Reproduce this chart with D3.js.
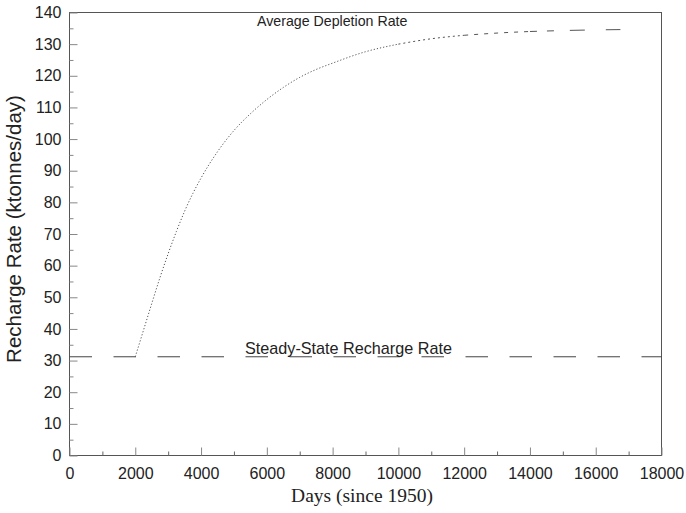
<!DOCTYPE html>
<html>
<head>
<meta charset="utf-8">
<script src="https://cdn.jsdelivr.net/npm/d3@7"></script>
<style>
  html, body { margin: 0; padding: 0; background: #fff; }
  svg { display: block; }
</style>
</head>
<body>
<svg id="chart" width="686" height="513"></svg>
<script>
// ---- data ----
const depletionDays = [2000, 2250, 2500, 2750, 3000, 3250, 3500, 3750, 4000, 4500, 5000, 5500, 6000, 6500, 7000, 7500, 8000, 9000, 10000, 11000, 12000, 13000, 14000, 15000, 16000, 16750];
const depletionRate = [31.2, 39.6, 48, 56.2, 63.8, 70.8, 77.2, 82.8, 87.7, 96, 102.7, 108, 112.5, 116.3, 119.5, 122, 124, 127.6, 130, 131.7, 132.8, 133.5, 134, 134.3, 134.5, 134.6];
const steadyDays = [0, 18000];
const steadyRate = [31.2, 31.2];
const xTicks = [0, 2000, 4000, 6000, 8000, 10000, 12000, 14000, 16000, 18000];
const xMinorTicks = [1000, 3000, 5000, 7000, 9000, 11000, 13000, 15000, 17000];
const yTicks = [0, 10, 20, 30, 40, 50, 60, 70, 80, 90, 100, 110, 120, 130, 140];
const yMinorTicks = [5, 15, 25, 35, 45, 55, 65, 75, 85, 95, 105, 115, 125, 135];
const xTitle = "Days (since 1950)";
const yTitle = "Recharge Rate (ktonnes/day)";
const depletionLabel = "Average Depletion Rate";
const steadyLabel = "Steady-State Recharge Rate";

// ---- layout ----
const svg = d3.select("#chart");
const pLeft = 69.5, pRight = 661.5, pTop = 12.5, pBottom = 455.5;
const x = d3.scaleLinear().domain([0, 18000]).range([pLeft, pRight]);
const y = d3.scaleLinear().domain([0, 140]).range([pBottom, pTop]);
const sans = "'Liberation Sans', Arial, sans-serif";
const serif = "'Liberation Serif', 'Times New Roman', serif";

// frame
svg.append("rect")
  .attr("x", pLeft).attr("y", pTop)
  .attr("width", pRight - pLeft).attr("height", pBottom - pTop)
  .attr("fill", "none").attr("stroke", "#555").attr("stroke-width", 1);

// x axis (ticks inward)
const gx = svg.append("g").attr("transform", `translate(0,${pBottom})`)
  .call(d3.axisBottom(x).tickValues(xTicks).tickSize(-8).tickPadding(12).tickFormat(d3.format("d")));
gx.select(".domain").remove();
gx.selectAll(".tick line").attr("stroke", "#888");
gx.selectAll(".tick text").attr("font-family", sans).attr("font-size", "16px").attr("fill", "#222");
const gxm = svg.append("g").attr("transform", `translate(0,${pBottom})`)
  .call(d3.axisBottom(x).tickValues(xMinorTicks).tickSize(-4).tickFormat(""));
gxm.select(".domain").remove();
gxm.selectAll(".tick line").attr("stroke", "#666");

// y axis (ticks inward)
const gy = svg.append("g").attr("transform", `translate(${pLeft},0)`)
  .call(d3.axisLeft(y).tickValues(yTicks).tickSize(-8).tickPadding(8).tickFormat(d3.format("d")));
gy.select(".domain").remove();
gy.selectAll(".tick line").attr("stroke", "#888");
gy.selectAll(".tick text").attr("font-family", sans).attr("font-size", "16px").attr("fill", "#222");
const gym = svg.append("g").attr("transform", `translate(${pLeft},0)`)
  .call(d3.axisLeft(y).tickValues(yMinorTicks).tickSize(-4).tickFormat(""));
gym.select(".domain").remove();
gym.selectAll(".tick line").attr("stroke", "#888");

// steady-state line
const line = d3.line().x(d => x(d[0])).y(d => y(d[1]));
svg.append("path")
  .datum(steadyDays.map((d, i) => [d, steadyRate[i]]))
  .attr("d", line)
  .attr("fill", "none").attr("stroke", "#444").attr("stroke-width", 1)
  .attr("stroke-dasharray", "22.5,21.5");

// depletion curve: dotted, dashes lengthening along the flat tail
const pts = depletionDays.map((d, i) => [d, depletionRate[i]]);
const curve = d3.line().x(d => x(d[0])).y(d => y(d[1])).curve(d3.curveMonotoneX);
const styleRanges = [
  [2000, 10000, "1.2,2", 0],
  [10000, 12000, "2,3", 0],
  [12000, 14000, "4,6", 0],
  [14000, 15000, "7,10", 0],
  [15000, 16750, "15,21", 29]
];
styleRanges.forEach(([a, b, dash, off]) => {
  svg.append("path")
    .datum(pts.filter(p => p[0] >= a && p[0] <= b))
    .attr("d", curve)
    .attr("fill", "none").attr("stroke", "#555").attr("stroke-width", 1)
    .attr("stroke-dasharray", dash)
    .attr("stroke-dashoffset", off);
});

// labels
svg.append("text").attr("x", 257).attr("y", 26)
  .attr("font-family", sans).attr("font-size", "14.2px").attr("fill", "#222")
  .text(depletionLabel);
svg.append("text").attr("x", 245).attr("y", 353.5)
  .attr("font-family", sans).attr("font-size", "16.2px").attr("fill", "#222")
  .text(steadyLabel);

// axis titles
svg.append("text").attr("x", 362).attr("y", 502)
  .attr("text-anchor", "middle")
  .attr("font-family", serif).attr("font-size", "19.5px").attr("fill", "#222")
  .text(xTitle);
svg.append("text")
  .attr("transform", "translate(21,229) rotate(-90)")
  .attr("text-anchor", "middle")
  .attr("font-family", sans).attr("font-size", "20.5px").attr("fill", "#222")
  .text(yTitle);
</script>
</body>
</html>
